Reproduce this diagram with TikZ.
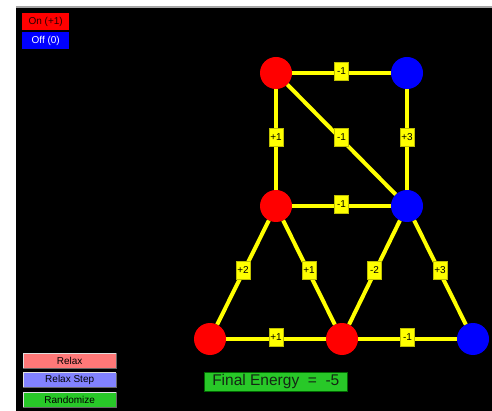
\documentclass[tikz,border=0pt]{standalone}
\usepackage{fontspec}
\setmainfont{Liberation Sans}
\definecolor{myred}{RGB}{255,0,0}
\definecolor{myblue}{RGB}{0,0,255}
\definecolor{myyellow}{RGB}{255,255,0}
\definecolor{relaxc}{RGB}{255,120,120}
\definecolor{stepc}{RGB}{130,130,255}
\definecolor{randc}{RGB}{40,200,40}
\definecolor{energyc}{RGB}{40,200,40}
\definecolor{darktext}{RGB}{20,40,20}
\tikzset{
  unit/.style={circle, minimum size=32pt, inner sep=0pt},
  onunit/.style={unit, fill=myred},
  offunit/.style={unit, fill=myblue},
  wire/.style={draw=myyellow, line width=4pt},
  weight/.style={fill=myyellow, draw=myyellow!75!black, line width=0.4pt, minimum width=14pt, minimum height=18pt, inner sep=1pt, font=\fontsize{10}{11}\selectfont, text=black, yshift=2pt},
  legendbox/.style={anchor=north west, minimum width=47pt, minimum height=17pt, inner sep=0pt, font=\fontsize{10}{11}\selectfont},
  btn/.style={anchor=north west, minimum width=93pt, minimum height=15pt, inner sep=0pt, font=\fontsize{10}{11}\selectfont, text=black},
  lightedge/.style={draw=white!75!gray, line width=1pt},
  darkedge/.style={draw=black!60, line width=1pt},
}
\begin{document}
\begin{tikzpicture}[x=1pt,y=-1pt]
\useasboundingbox (0,0) rectangle (492,411);
\fill[white] (0,0) rectangle (492,411);
\fill[black] (16,8) rectangle (492,411);
\fill[gray!70] (16,6) rectangle (492,8);

% legend
\node[legendbox, fill=myred, text=black!85!red] (on) at (22,13) {On (+1)};
\node[legendbox, fill=myblue, text=white] (off) at (22,32) {Off (0)};

% units
\node[onunit]  (a) at (276,73)  {};
\node[offunit] (b) at (407,73)  {};
\node[onunit]  (c) at (276,206) {};
\node[offunit] (d) at (407,206) {};
\node[onunit]  (e) at (210,339) {};
\node[onunit]  (f) at (342,339) {};
\node[offunit] (g) at (473,339) {};

% connections
\draw[wire] (a) -- node[weight] {-1} (b);
\draw[wire] (a) -- node[weight] {+1} (c);
\draw[wire] (a) -- node[weight] {-1} (d);
\draw[wire] (b) -- node[weight] {+3} (d);
\draw[wire] (c) -- node[weight] {-1} (d);
\draw[wire] (c) -- node[weight] {+2} (e);
\draw[wire] (c) -- node[weight] {+1} (f);
\draw[wire] (d) -- node[weight] {-2} (f);
\draw[wire] (d) -- node[weight] {+3} (g);
\draw[wire] (e) -- node[weight] {+1} (f);
\draw[wire] (f) -- node[weight] {-1} (g);

% buttons
\node[btn, fill=relaxc] (relax) at (23,353) {Relax};
\node[btn, fill=stepc] (step1) at (23,372.5) {Relax Step};
\node[btn, fill=randc] (rand) at (23,392) {Randomize};
\foreach \b in {relax,step1,rand}{
  \draw[lightedge] (\b.south west) |- (\b.north east);
  \draw[darkedge] (\b.south west) -| (\b.north east);
}

% energy
\node[anchor=north west, fill=energyc, draw=green!40!black, line width=0.6pt, minimum width=143pt, minimum height=19pt, inner sep=0pt, font=\fontsize{15.5}{16}\selectfont, text=darktext] (energy) at (204,372) {Final Energy~~=~~-5};
\end{tikzpicture}
\end{document}
